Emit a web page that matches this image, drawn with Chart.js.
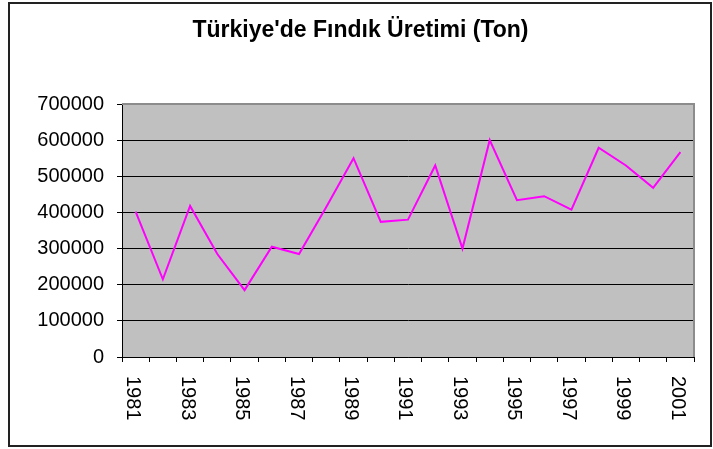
<!DOCTYPE html>
<html>
<head>
<meta charset="utf-8">
<script src="https://cdn.jsdelivr.net/npm/chart.js@4"></script>
<style>
  html, body { margin: 0; padding: 0; background: #fff; }
  #wrap { width: 713px; height: 449px; }
</style>
</head>
<body>
<div id="wrap"><canvas id="chart" width="713" height="449"></canvas></div>
<script>
"use strict";

const years = ['1981', '1982', '1983', '1984', '1985', '1986', '1987', '1988', '1989', '1990', '1991',
    '1992', '1993', '1994', '1995', '1996', '1997', '1998', '1999', '2000', '2001'];
const production = [402000, 215000, 418000, 285000, 185000, 305000, 285000, 415000, 550000, 374000, 380000,
    530000, 300000, 600000, 434000, 445000, 408000, 579000, 530000, 468000, 567000];
const yTicks = [0, 100000, 200000, 300000, 400000, 500000, 600000, 700000];

const FONT = 'Arial, "Liberation Sans", sans-serif';

// white frame + grey plot background + grey top/right border
const frame = {
    id: 'frame',
    beforeDraw(chart) {
        const ctx = chart.ctx;
        const a = chart.chartArea;
        ctx.save();
        ctx.fillStyle = '#fff';
        ctx.fillRect(0, 0, chart.width, chart.height);
        ctx.strokeStyle = '#222';
        ctx.lineWidth = 2;
        ctx.strokeRect(9, 3, 702, 443);
        ctx.fillStyle = '#c0c0c0';
        ctx.fillRect(a.left, a.top, a.right - a.left, a.bottom - a.top);
        ctx.restore();
    },
    afterDatasetsDraw(chart) {
        const ctx = chart.ctx;
        const a = chart.chartArea;
        ctx.save();
        ctx.strokeStyle = '#8c8c8c';
        ctx.lineWidth = 2;
        ctx.beginPath();
        ctx.moveTo(a.left, a.top);
        ctx.lineTo(a.right, a.top);
        ctx.lineTo(a.right, a.bottom);
        ctx.stroke();
        ctx.restore();
    }
};

// year labels read top-to-bottom (rotated clockwise), every second year
const yearLabels = {
    id: 'yearLabels',
    afterDraw(chart) {
        const ctx = chart.ctx;
        const x = chart.scales.x;
        ctx.save();
        ctx.font = '20px ' + FONT;
        ctx.fillStyle = '#000';
        ctx.textAlign = 'left';
        ctx.textBaseline = 'middle';
        years.forEach((y, i) => {
            if (i % 2) return;
            const px = x.getPixelForValue(i);
            ctx.save();
            ctx.translate(px - 3, x.top + 19);
            ctx.rotate(Math.PI / 2);
            ctx.fillText(y, 0, 0);
            ctx.restore();
        });
        ctx.restore();
    }
};

new Chart(document.getElementById('chart'), {
    type: 'line',
    data: {
        labels: years,
        datasets: [{
            label: 'Üretim',
            data: production,
            borderColor: '#ff00ff',
            borderWidth: 2,
            pointRadius: 0,
            tension: 0,
            fill: false
        }]
    },
    options: {
        responsive: false,
        animation: false,
        layout: { padding: { left: 27, right: 19, top: 0, bottom: 0 } },
        plugins: {
            legend: { display: false },
            tooltip: { enabled: false },
            title: {
                display: true,
                text: "Türkiye'de Fındık Üretimi (Ton)",
                color: '#000',
                font: { family: FONT, size: 23, weight: 'bold' },
                padding: { top: 17, bottom: 59.4 }
            }
        },
        scales: {
            x: {
                offset: true,
                grid: { offset: true, drawOnChartArea: false, color: '#000', tickLength: 5 },
                border: { color: '#000', width: 1 },
                ticks: { display: false },
                afterFit(scale) { scale.height = 92; }
            },
            y: {
                min: 0,
                max: 700000,
                afterBuildTicks(scale) { scale.ticks = yTicks.map(v => ({ value: v })); },
                ticks: {
                    color: '#000',
                    padding: 13,
                    font: { family: FONT, size: 20 },
                    callback: v => String(v)
                },
                grid: {
                    color: ctx => ctx.tick && ctx.tick.value === 700000 ? '#8c8c8c' : '#000',
                    tickColor: '#000',
                    tickLength: 5
                },
                border: { color: '#000', width: 1 },
                afterFit(scale) { scale.width = 95; }
            }
        }
    },
    plugins: [frame, yearLabels]
});
</script>
</body>
</html>
